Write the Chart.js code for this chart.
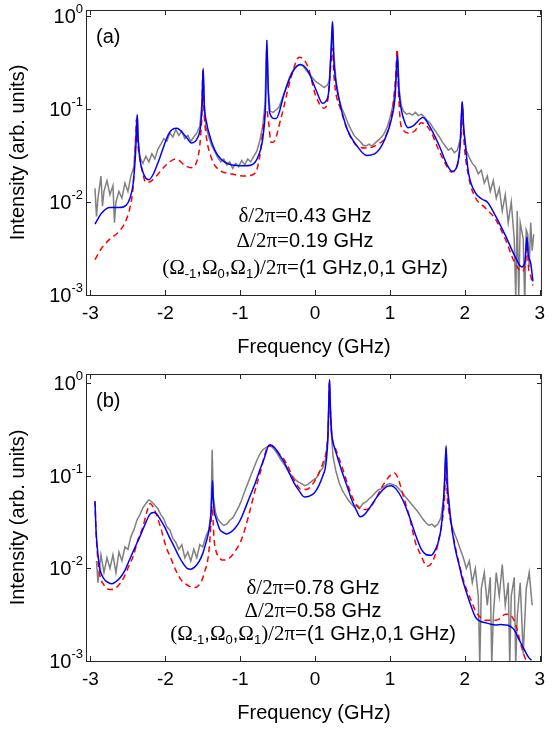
<!DOCTYPE html>
<html>
<head>
<meta charset="utf-8">
<script src="https://cdn.jsdelivr.net/npm/chart.js@4.4.1/dist/chart.umd.min.js"></script>
<style>
  body { margin: 0; background: #fff; }
  #wrap { position: relative; width: 552px; height: 731px; }
  canvas { position: absolute; left: 0; }
</style>
</head>
<body>
<div id="wrap">
  <canvas id="chartA" width="552" height="365" style="top:0px"></canvas>
  <canvas id="chartB" width="552" height="366" style="top:365px"></canvas>
</div>
<script>
// axis ticks
const xTicks = [-3, -2, -1, 0, 1, 2, 3];
const yTicks = [0.001, 0.01, 0.1, 1];
const yExp = ['-3', '-2', '-1', '0'];

// panel (a): [frequency GHz, intensity]
const aGray = [
  [-2.94,0.014],[-2.92,0.007],[-2.90,0.011],[-2.86,0.019],[-2.84,0.009],[-2.82,0.013],[-2.78,0.017],
  [-2.74,0.012],[-2.70,0.015],[-2.68,0.006],[-2.66,0.010],[-2.62,0.013],[-2.58,0.011],[-2.54,0.016],
  [-2.50,0.013],[-2.46,0.019],[-2.42,0.024],
  [-2.40,0.045],[-2.385,0.075],[-2.375,0.085],[-2.36,0.045],[-2.34,0.030],[-2.30,0.026],[-2.26,0.031],
  [-2.22,0.027],[-2.18,0.033],[-2.14,0.029],[-2.10,0.037],[-2.06,0.042],[-2.02,0.048],[-1.98,0.045],
  [-1.94,0.055],[-1.90,0.050],[-1.86,0.060],[-1.82,0.052],[-1.78,0.058],[-1.74,0.048],[-1.70,0.052],
  [-1.66,0.045],[-1.62,0.050],[-1.58,0.055],[-1.54,0.065],[-1.51,0.12],[-1.495,0.26],[-1.48,0.11],
  [-1.46,0.065],[-1.42,0.050],[-1.38,0.040],[-1.34,0.035],[-1.30,0.030],[-1.26,0.027],[-1.22,0.029],
  [-1.18,0.025],[-1.14,0.027],[-1.10,0.023],[-1.06,0.026],[-1.02,0.024],[-0.98,0.028],[-0.94,0.025],
  [-0.90,0.029],[-0.86,0.027],[-0.82,0.031],[-0.78,0.035],[-0.74,0.045],[-0.70,0.065],[-0.67,0.11],
  [-0.645,0.55],[-0.625,0.15],[-0.60,0.095],[-0.56,0.092],[-0.52,0.098],[-0.48,0.105],[-0.44,0.13],
  [-0.40,0.16],[-0.36,0.20],[-0.32,0.24],[-0.28,0.27],[-0.24,0.29],[-0.20,0.30],[-0.16,0.29],
  [-0.12,0.26],[-0.08,0.24],[-0.04,0.22],[0.00,0.20],[0.04,0.19],[0.08,0.18],[0.12,0.17],
  [0.16,0.18],[0.19,0.20],[0.215,0.45],[0.233,0.85],[0.25,0.40],[0.28,0.20],[0.32,0.13],
  [0.36,0.10],[0.40,0.085],[0.44,0.070],[0.48,0.060],[0.52,0.052],[0.56,0.048],[0.60,0.045],
  [0.64,0.041],[0.68,0.040],[0.72,0.042],[0.76,0.040],[0.80,0.043],[0.84,0.046],[0.88,0.049],
  [0.92,0.054],[0.96,0.063],[1.00,0.080],[1.04,0.11],[1.07,0.17],[1.10,0.42],[1.12,0.17],
  [1.15,0.11],[1.18,0.095],[1.22,0.088],[1.26,0.090],[1.30,0.086],[1.34,0.092],[1.38,0.085],
  [1.42,0.088],[1.46,0.082],[1.50,0.075],[1.54,0.070],[1.58,0.062],[1.62,0.056],[1.66,0.050],
  [1.70,0.044],[1.74,0.040],[1.78,0.036],[1.82,0.038],[1.86,0.034],[1.90,0.036],[1.94,0.048],
  [1.965,0.12],[1.985,0.06],[2.02,0.036],[2.06,0.030],[2.10,0.026],[2.14,0.024],[2.18,0.020],
  [2.22,0.022],[2.26,0.016],[2.30,0.019],[2.34,0.013],[2.38,0.017],[2.42,0.011],[2.46,0.014],
  [2.50,0.008],[2.54,0.012],[2.58,0.006],[2.62,0.010],[2.66,0.004],[2.68,0.0009],[2.70,0.008],
  [2.72,0.0009],[2.74,0.006],[2.78,0.004],[2.80,0.0008],[2.82,0.005],[2.84,0.0045],[2.86,0.002],
  [2.88,0.006],[2.90,0.003],[2.92,0.0045]
];
const aBlue = [
  [-2.94,0.0058],[-2.85,0.0076],[-2.74,0.0087],[-2.62,0.0087],[-2.52,0.0093],[-2.47,0.0112],
  [-2.43,0.0158],[-2.40,0.0316],[-2.385,0.056],[-2.375,0.087],[-2.365,0.05],[-2.34,0.029],
  [-2.30,0.021],[-2.26,0.018],[-2.22,0.0174],[-2.16,0.020],[-2.08,0.029],[-1.95,0.055],
  [-1.85,0.062],[-1.73,0.051],[-1.65,0.043],[-1.57,0.049],[-1.53,0.065],[-1.51,0.11],
  [-1.495,0.275],[-1.48,0.11],[-1.46,0.079],[-1.38,0.044],[-1.29,0.031],[-1.11,0.025],
  [-0.94,0.0245],[-0.85,0.025],[-0.76,0.031],[-0.69,0.055],[-0.66,0.126],[-0.645,0.55],
  [-0.625,0.16],[-0.607,0.091],[-0.54,0.079],[-0.52,0.079],[-0.41,0.148],[-0.30,0.25],
  [-0.20,0.30],[-0.10,0.26],[0.01,0.162],[0.10,0.115],[0.14,0.12],[0.185,0.162],
  [0.215,0.44],[0.233,0.87],[0.25,0.34],[0.28,0.19],[0.32,0.126],[0.43,0.060],
  [0.56,0.040],[0.69,0.0316],[0.82,0.034],[0.93,0.047],[1.02,0.078],[1.07,0.14],
  [1.10,0.38],[1.12,0.16],[1.15,0.10],[1.20,0.071],[1.24,0.063],[1.31,0.066],
  [1.44,0.081],[1.53,0.065],[1.66,0.040],[1.77,0.0245],[1.83,0.0214],[1.90,0.025],
  [1.94,0.044],[1.965,0.12],[1.985,0.063],[2.00,0.047],[2.05,0.0204],[2.14,0.0126],
  [2.23,0.0107],[2.30,0.010],[2.41,0.0071],[2.54,0.0044],[2.67,0.0026],[2.76,0.0020],
  [2.80,0.0022],[2.82,0.0035],[2.83,0.0042],[2.845,0.0028],[2.88,0.0022],[2.91,0.0014]
];
const aRed = [
  [-2.94,0.0024],[-2.85,0.0032],[-2.74,0.0040],[-2.61,0.0049],[-2.52,0.0065],[-2.47,0.0089],
  [-2.43,0.0148],[-2.40,0.040],[-2.385,0.078],[-2.37,0.045],[-2.34,0.029],[-2.30,0.020],
  [-2.26,0.0162],[-2.20,0.0166],[-2.12,0.019],[-1.99,0.025],[-1.86,0.029],[-1.73,0.0245],
  [-1.66,0.0234],[-1.57,0.029],[-1.53,0.050],[-1.51,0.10],[-1.50,0.26],[-1.485,0.10],
  [-1.46,0.056],[-1.38,0.029],[-1.29,0.0224],[-1.11,0.020],[-0.94,0.019],[-0.80,0.0204],
  [-0.74,0.031],[-0.67,0.087],[-0.645,0.095],[-0.62,0.071],[-0.59,0.044],[-0.56,0.044],
  [-0.45,0.083],[-0.32,0.22],[-0.21,0.36],[-0.10,0.29],[0.01,0.138],[0.12,0.102],
  [0.17,0.126],[0.207,0.28],[0.23,0.45],[0.25,0.24],[0.27,0.162],[0.34,0.10],
  [0.45,0.055],[0.56,0.040],[0.69,0.038],[0.84,0.042],[0.95,0.052],[1.04,0.107],
  [1.08,0.25],[1.095,0.44],[1.11,0.18],[1.15,0.065],[1.26,0.055],[1.33,0.058],
  [1.42,0.071],[1.53,0.060],[1.66,0.035],[1.77,0.0234],[1.82,0.021],[1.90,0.025],
  [1.95,0.056],[1.965,0.115],[1.985,0.05],[2.05,0.019],[2.14,0.0112],[2.27,0.0087],
  [2.41,0.0065],[2.54,0.0040],[2.67,0.0022],[2.76,0.0018],[2.81,0.0022],[2.83,0.0036],
  [2.85,0.0020],[2.88,0.0016],[2.91,0.00126]
];

// panel (b): [frequency GHz, intensity]
const bGray = [
  [-2.92,0.012],[-2.90,0.007],[-2.86,0.014],[-2.82,0.009],[-2.78,0.013],[-2.74,0.010],[-2.70,0.014],
  [-2.66,0.009],[-2.62,0.015],[-2.58,0.012],[-2.54,0.017],[-2.50,0.016],[-2.46,0.022],[-2.42,0.026],
  [-2.38,0.033],[-2.34,0.038],[-2.30,0.045],[-2.26,0.050],[-2.22,0.055],[-2.18,0.052],[-2.14,0.048],
  [-2.10,0.044],[-2.06,0.038],[-2.02,0.034],[-1.98,0.028],[-1.94,0.026],[-1.90,0.021],[-1.86,0.019],
  [-1.82,0.016],[-1.78,0.018],[-1.74,0.013],[-1.70,0.015],[-1.66,0.012],[-1.62,0.016],[-1.58,0.013],
  [-1.54,0.018],[-1.50,0.017],[-1.46,0.022],[-1.42,0.026],[-1.39,0.040],[-1.375,0.19],[-1.36,0.060],
  [-1.33,0.040],[-1.30,0.034],[-1.26,0.031],[-1.22,0.029],[-1.18,0.030],[-1.14,0.033],[-1.10,0.035],
  [-1.06,0.040],[-1.02,0.046],[-0.98,0.055],[-0.94,0.068],[-0.90,0.082],[-0.86,0.10],[-0.82,0.12],
  [-0.78,0.145],[-0.74,0.17],[-0.70,0.19],[-0.66,0.20],[-0.62,0.21],[-0.58,0.205],[-0.54,0.19],
  [-0.50,0.17],[-0.46,0.15],[-0.42,0.135],[-0.38,0.12],[-0.34,0.105],[-0.30,0.098],[-0.26,0.090],
  [-0.22,0.085],[-0.18,0.082],[-0.14,0.078],[-0.10,0.080],[-0.06,0.085],[-0.02,0.090],[0.02,0.095],
  [0.06,0.11],[0.10,0.12],[0.14,0.15],[0.17,0.25],[0.193,1.05],[0.21,0.35],[0.24,0.16],
  [0.28,0.11],[0.32,0.085],[0.36,0.070],[0.40,0.062],[0.44,0.055],[0.48,0.050],[0.52,0.046],
  [0.56,0.048],[0.60,0.045],[0.64,0.050],[0.68,0.052],[0.72,0.056],[0.76,0.060],[0.80,0.065],
  [0.84,0.070],[0.88,0.072],[0.92,0.076],[0.96,0.080],[1.00,0.082],[1.04,0.080],[1.08,0.078],
  [1.12,0.072],[1.16,0.066],[1.20,0.060],[1.24,0.055],[1.28,0.050],[1.32,0.046],[1.36,0.042],
  [1.40,0.038],[1.44,0.034],[1.48,0.031],[1.52,0.029],[1.56,0.030],[1.60,0.028],[1.64,0.030],
  [1.68,0.035],[1.72,0.060],[1.75,0.20],[1.78,0.060],[1.82,0.030],[1.86,0.024],[1.90,0.020],
  [1.94,0.016],[1.98,0.013],[2.02,0.010],[2.06,0.012],[2.10,0.007],[2.14,0.010],[2.18,0.005],
  [2.20,0.0009],[2.22,0.006],[2.26,0.009],[2.30,0.004],[2.34,0.008],[2.36,0.0009],[2.38,0.003],
  [2.42,0.009],[2.46,0.005],[2.50,0.011],[2.54,0.004],[2.58,0.007],[2.60,0.0009],[2.62,0.005],
  [2.66,0.008],[2.68,0.0009],[2.70,0.003],[2.74,0.007],[2.78,0.0012],[2.82,0.006],[2.86,0.009],
  [2.90,0.004]
];
const bBlue = [
  [-2.94,0.053],[-2.925,0.025],[-2.90,0.014],[-2.87,0.0095],[-2.82,0.0077],[-2.76,0.0070],
  [-2.72,0.0068],[-2.66,0.0072],[-2.61,0.0078],[-2.54,0.0095],[-2.48,0.0123],[-2.41,0.0165],
  [-2.34,0.022],[-2.27,0.030],[-2.21,0.038],[-2.16,0.040],[-2.12,0.039],[-2.08,0.035],
  [-2.01,0.028],[-1.95,0.022],[-1.88,0.017],[-1.82,0.0135],[-1.76,0.0112],[-1.71,0.010],
  [-1.66,0.0098],[-1.61,0.0103],[-1.55,0.0118],[-1.50,0.0145],[-1.46,0.0186],[-1.42,0.025],
  [-1.395,0.035],[-1.38,0.060],[-1.37,0.088],[-1.36,0.055],[-1.345,0.040],[-1.33,0.036],
  [-1.30,0.030],[-1.27,0.026],[-1.22,0.0242],[-1.18,0.0235],[-1.13,0.0245],[-1.07,0.027],
  [-1.00,0.033],[-0.94,0.043],[-0.87,0.060],[-0.80,0.083],[-0.73,0.12],[-0.67,0.162],
  [-0.63,0.205],[-0.60,0.215],[-0.54,0.20],[-0.48,0.17],[-0.41,0.138],[-0.34,0.105],
  [-0.28,0.083],[-0.21,0.068],[-0.145,0.059],[-0.08,0.060],[-0.01,0.065],[0.05,0.078],
  [0.10,0.098],[0.135,0.12],[0.155,0.16],[0.17,0.25],[0.185,0.72],[0.193,1.09],
  [0.20,0.70],[0.215,0.35],[0.23,0.25],[0.26,0.20],[0.295,0.162],[0.36,0.11],
  [0.43,0.076],[0.50,0.052],[0.56,0.041],[0.60,0.036],[0.66,0.038],[0.73,0.045],
  [0.82,0.058],[0.91,0.071],[0.97,0.077],[1.02,0.078],[1.08,0.072],[1.17,0.055],
  [1.26,0.036],[1.35,0.022],[1.42,0.016],[1.48,0.0141],[1.55,0.0138],[1.60,0.0155],
  [1.64,0.0186],[1.68,0.026],[1.71,0.045],[1.73,0.09],[1.75,0.21],[1.765,0.08],
  [1.78,0.059],[1.80,0.040],[1.83,0.026],[1.87,0.0165],[1.92,0.0112],[1.97,0.0075],
  [2.01,0.0059],[2.07,0.0042],[2.14,0.0030],[2.20,0.0027],[2.27,0.0026],[2.34,0.0025],
  [2.41,0.00245],[2.48,0.00248],[2.54,0.00245],[2.59,0.0024],[2.63,0.0023],[2.67,0.0021],
  [2.71,0.0018],[2.76,0.0015],[2.80,0.0013],[2.85,0.0011],[2.89,0.00102]
];
const bRed = [
  [-2.94,0.053],[-2.925,0.024],[-2.90,0.012],[-2.87,0.0081],[-2.82,0.0066],[-2.78,0.0060],
  [-2.70,0.0059],[-2.63,0.0065],[-2.56,0.0078],[-2.49,0.0105],[-2.43,0.0135],[-2.36,0.021],
  [-2.30,0.028],[-2.25,0.040],[-2.20,0.050],[-2.16,0.045],[-2.12,0.038],[-2.06,0.027],
  [-1.99,0.017],[-1.92,0.0125],[-1.86,0.0095],[-1.79,0.0075],[-1.73,0.0068],[-1.66,0.0063],
  [-1.60,0.0062],[-1.55,0.0066],[-1.51,0.0075],[-1.47,0.0095],[-1.44,0.0115],[-1.41,0.018],
  [-1.39,0.032],[-1.375,0.047],[-1.36,0.030],[-1.35,0.021],[-1.32,0.015],[-1.29,0.0135],
  [-1.24,0.0123],[-1.20,0.0123],[-1.14,0.013],[-1.07,0.0152],[-1.00,0.019],[-0.94,0.026],
  [-0.87,0.042],[-0.80,0.070],[-0.73,0.11],[-0.67,0.17],[-0.63,0.205],[-0.58,0.21],
  [-0.52,0.19],[-0.46,0.165],[-0.41,0.148],[-0.34,0.115],[-0.28,0.089],[-0.22,0.075],
  [-0.19,0.071],[-0.12,0.071],[-0.06,0.076],[0.01,0.092],[0.07,0.115],[0.12,0.15],
  [0.16,0.21],[0.18,0.40],[0.19,1.00],[0.20,0.60],[0.215,0.33],[0.23,0.25],
  [0.26,0.21],[0.295,0.174],[0.36,0.125],[0.43,0.083],[0.50,0.058],[0.58,0.045],
  [0.64,0.043],[0.69,0.043],[0.76,0.048],[0.82,0.058],[0.89,0.075],[0.95,0.089],
  [1.01,0.102],[1.06,0.107],[1.10,0.097],[1.13,0.083],[1.19,0.056],[1.26,0.036],
  [1.34,0.019],[1.42,0.0135],[1.47,0.0110],[1.50,0.0105],[1.55,0.0112],[1.61,0.0145],
  [1.66,0.022],[1.70,0.033],[1.73,0.060],[1.75,0.15],[1.765,0.06],[1.78,0.045],
  [1.81,0.032],[1.85,0.021],[1.92,0.0115],[2.01,0.0063],[2.08,0.0046],[2.14,0.0035],
  [2.20,0.0030],[2.27,0.00275],[2.34,0.00275],[2.41,0.00275],[2.48,0.0029],[2.54,0.0032],
  [2.60,0.0032],[2.63,0.0030],[2.67,0.0026],[2.71,0.0020],[2.76,0.0014],[2.80,0.0011],
  [2.82,0.00102]
];

// parameter text: [text, style]  g = serif, s = sans, b = subscript
const aInfo = [
  [['δ/2π=', 'g'], ['0.43 GHz', 's']],
  [['Δ/2π=', 'g'], ['0.19 GHz', 's']],
  [['(Ω', 'g'], ['-1', 'b'], [',', 's'], ['Ω', 'g'], ['0', 'b'], [',', 's'], ['Ω', 'g'], ['1', 'b'], [')/2π=', 'g'], ['(1 GHz,0,1 GHz)', 's']]
];
const bInfo = [
  [['δ/2π=', 'g'], ['0.78 GHz', 's']],
  [['Δ/2π=', 'g'], ['0.58 GHz', 's']],
  [['(Ω', 'g'], ['-1', 'b'], [',', 's'], ['Ω', 'g'], ['0', 'b'], [',', 's'], ['Ω', 'g'], ['1', 'b'], [')/2π=', 'g'], ['(1 GHz,0,1 GHz)', 's']]
];

const SANS = '"Liberation Sans", Arial, sans-serif';
const SERIF = '"Liberation Serif", "Times New Roman", serif';

function drawRich(ctx, parts, cx, cy) {
  const fonts = { s: '20px ' + SANS, g: '21px ' + SERIF, b: '13px ' + SANS };
  let w = 0;
  parts.forEach(p => { ctx.font = fonts[p[1]]; w += ctx.measureText(p[0]).width; });
  let x = cx - w / 2;
  ctx.textBaseline = 'alphabetic';
  ctx.textAlign = 'left';
  parts.forEach(p => {
    ctx.font = fonts[p[1]];
    ctx.fillText(p[0], x, cy + (p[1] === 'b' ? 4 : 0));
    x += ctx.measureText(p[0]).width;
  });
}

function framePlugin(letter, info, textX, textYs) {
  return {
    id: 'frame',
    afterDatasetsDraw(chart) {
      const { ctx, chartArea: a, scales: { x, y } } = chart;
      ctx.save();
      ctx.strokeStyle = '#262626';
      ctx.lineWidth = 1;
      ctx.strokeRect(a.left + 0.5, a.top + 0.5, a.right - a.left - 1, a.bottom - a.top);
      ctx.beginPath();
      xTicks.forEach(v => {
        const px = Math.round(x.getPixelForValue(v)) + 0.5;
        ctx.moveTo(px, a.bottom); ctx.lineTo(px, a.bottom - 5);
        ctx.moveTo(px, a.top); ctx.lineTo(px, a.top + 5);
      });
      yTicks.forEach(v => {
        const py = Math.round(y.getPixelForValue(v)) + 0.5;
        ctx.moveTo(a.left, py); ctx.lineTo(a.left + 5, py);
        ctx.moveTo(a.right, py); ctx.lineTo(a.right - 5, py);
      });
      ctx.stroke();
      // y tick labels with superscript exponents
      ctx.fillStyle = '#000';
      yTicks.forEach((v, i) => {
        const py = y.getPixelForValue(v);
        ctx.font = '13px ' + SANS;
        const ew = ctx.measureText(yExp[i]).width;
        ctx.textAlign = 'left';
        ctx.textBaseline = 'alphabetic';
        ctx.fillText(yExp[i], a.left - 3 - ew, py - 3);
        ctx.font = '20px ' + SANS;
        ctx.textAlign = 'right';
        ctx.fillText('10', a.left - 3 - ew, py + 7);
      });
      // panel letter
      ctx.font = '20px ' + SANS;
      ctx.textAlign = 'left';
      ctx.fillText(letter, a.left + 10, a.top + 33);
      // parameters
      info.forEach((line, i) => drawRich(ctx, line, textX, textYs[i]));
      ctx.restore();
    }
  };
}

function series(points, color, dash, order, smooth) {
  return {
    data: points.map(p => ({ x: p[0], y: p[1] })),
    borderColor: color,
    borderWidth: 1.5,
    borderDash: dash,
    pointRadius: 0,
    fill: false,
    order: order,
    cubicInterpolationMode: smooth ? 'monotone' : 'default',
    tension: 0
  };
}

function makeChart(id, gray, blue, red, yMax, padTop, xHeight, letter, info, textX, textYs) {
  return new Chart(document.getElementById(id), {
    type: 'line',
    data: {
      datasets: [
        series(gray, '#808080', [], 3, false),
        series(red, '#ff0000', [6, 4], 2, true),
        series(blue, '#0000ff', [], 1, true)
      ]
    },
    options: {
      responsive: false,
      animation: false,
      layout: { padding: { top: padTop, right: 5, left: 0, bottom: 0 } },
      plugins: { legend: { display: false }, tooltip: { enabled: false } },
      scales: {
        x: {
          type: 'linear', min: -3.06, max: 3.03,
          afterBuildTicks: s => { s.ticks = xTicks.map(v => ({ value: v })); },
          afterFit: s => { s.height = xHeight; },
          grid: { display: false, drawTicks: false },
          border: { display: false },
          ticks: { autoSkip: false, maxRotation: 0, padding: 7, color: '#000',
                   font: { family: SANS, size: 19 }, callback: v => String(v) },
          title: { display: true, text: 'Frequency (GHz)', color: '#000',
                   font: { family: SANS, size: 20 }, padding: { top: 0, bottom: 6 } }
        },
        y: {
          type: 'logarithmic', min: 0.001, max: yMax,
          afterBuildTicks: s => { s.ticks = yTicks.map(v => ({ value: v })); },
          afterFit: s => { s.width = 86; },
          grid: { display: false, drawTicks: false },
          border: { display: false },
          ticks: { display: false },
          title: { display: true, text: 'Intensity (arb. units)', color: '#000',
                   font: { family: SANS, size: 20 }, padding: { top: 6, bottom: 0 } }
        }
      }
    },
    plugins: [framePlugin(letter, info, textX, textYs)]
  });
}

makeChart('chartA', aGray, aBlue, aRed, 1.16, 10, 70, '(a)', aInfo, 305, [222, 247, 274]);
makeChart('chartB', bGray, bBlue, bRed, 1.25, 9, 70, '(b)', bInfo, 313, [229, 252, 275]);
</script>
</body>
</html>
